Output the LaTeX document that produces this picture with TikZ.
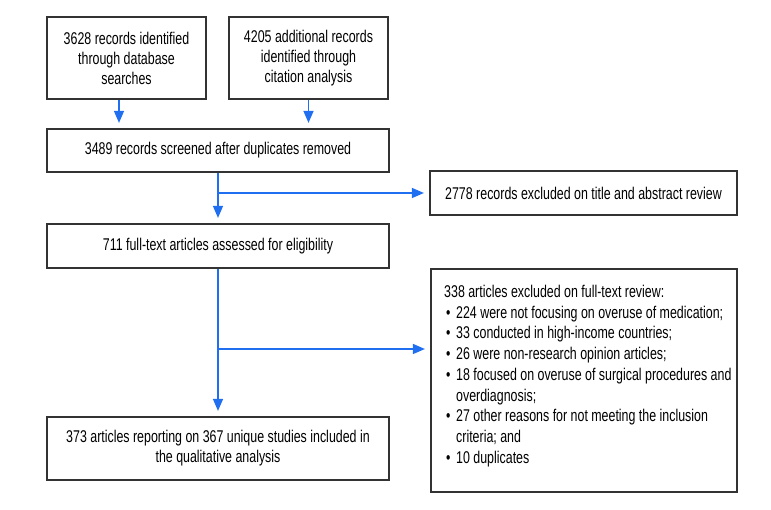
\documentclass[tikz,border=0pt]{standalone}
\usepackage{fontspec}
\setmainfont{Liberation Sans}[FakeStretch=0.73]
\usetikzlibrary{arrows.meta}
\definecolor{arrblue}{HTML}{1F6FF0}
\definecolor{boxline}{HTML}{333333}
\begin{document}
\begin{tikzpicture}[x=1pt,y=-1pt,
  box/.style={draw=boxline,line width=1.2pt,inner sep=0pt,align=center,
    font=\fontsize{17}{20}\selectfont},
  arr/.style={draw=arrblue,line width=1.4pt,-{Triangle[width=10pt,length=12pt]},shorten >=5.5pt}]
\useasboundingbox (0,0) rectangle (771,510);
\node[box,minimum width=159pt,minimum height=82pt] (b1) at (126.5,58)
  {3628 records identified\\through database\\searches};
\node[box,minimum width=159pt,minimum height=82pt] (b2) at (308.5,58)
  {4205 additional records\\identified through\\citation analysis};
\node[box,minimum width=342pt,minimum height=43pt] (b3) at (218,150.5)
  {3489 records screened after duplicates removed};
\node[box,minimum width=307pt,minimum height=44pt] (b5) at (583.5,193)
  {2778 records excluded on title and abstract review};
\node[box,minimum width=342pt,minimum height=44pt] (b4) at (218,246)
  {711 full-text articles assessed for eligibility};
\node[box,minimum width=342pt,minimum height=63pt] (b7) at (218,448.5)
  {373 articles reporting on 367 unique studies included in\\the qualitative analysis};
\node[box,minimum width=306pt,minimum height=223pt] (b6) at (584,380.5) {};
\node[anchor=north west,inner sep=0pt,align=left,
  font=\fontsize{17}{20.7}\selectfont] (t6) at (444,285)
  {338 articles excluded on full-text review:\\
   \makebox[12pt][l]{\hspace{2pt}•}224 were not focusing on overuse of medication;\\
   \makebox[12pt][l]{\hspace{2pt}•}33 conducted in high-income countries;\\
   \makebox[12pt][l]{\hspace{2pt}•}26 were non-research opinion articles;\\
   \makebox[12pt][l]{\hspace{2pt}•}18 focused on overuse of surgical procedures and\\
   \hspace*{12pt}overdiagnosis;\\
   \makebox[12pt][l]{\hspace{2pt}•}27 other reasons for not meeting the inclusion\\
   \hspace*{12pt}criteria; and\\
   \makebox[12pt][l]{\hspace{2pt}•}10 duplicates};
\draw[arr] ([xshift=-7.5pt]b1.south) -- ([xshift=-7.5pt]b1.south |- b3.north);
\draw[arr] (b2.south) -- (b2.south |- b3.north);
\draw[arr] (b3.south) -- (b4.north);
\coordinate (j1) at (b3.south |- b5.west);
\draw[arr] (j1) -- (b5.west);
\draw[arr] (b4.south) -- (b7.north);
\coordinate (j2) at (218,349);
\draw[arr] (j2) -- (j2 -| b6.west);
\end{tikzpicture}
\end{document}
